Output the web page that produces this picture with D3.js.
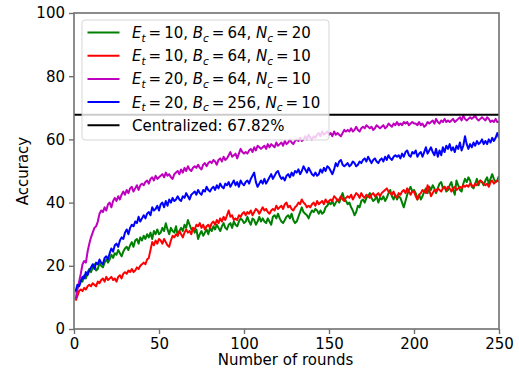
<!DOCTYPE html>
<html>
<head>
<meta charset="utf-8">
<script src="https://cdn.jsdelivr.net/npm/d3@7"></script>
<style>
  body { margin: 0; background: #fff; }
  svg text { font-family: "DejaVu Sans", sans-serif; fill: #000; }
</style>
</head>
<body>
<svg id="chart" width="519" height="372"></svg>
<script>
// accuracy per round
var accEt10Nc20 = [
  11.5, 13, 14, 15.5, 15, 17, 16, 18, 19, 18,
  19.5, 20.5, 18.5, 19, 21, 20, 19.5, 21, 22, 21,
  22, 23.5, 22.5, 24, 23.5, 25, 24, 23, 24.5, 25.5,
  26, 25, 26.5, 27.5, 26, 28, 28.5, 27, 29, 28,
  29.5, 28.5, 30, 29, 30.5, 28.5, 31, 30, 31.5, 30,
  30.5, 32, 31, 33.5, 31.5, 30, 32, 31, 30.5, 32.5,
  29.5, 31, 32, 31, 33, 32, 34.5, 33, 31.5, 32,
  30.5, 31.5, 28.5, 30, 31, 29.5, 30.5, 31.5, 30, 32,
  31, 32.5, 31.5, 33, 32, 31, 32.5, 33.5, 32, 31.5,
  33, 33.5, 32, 34, 33, 32.5, 34, 35, 34.5, 33.5,
  34, 35.5, 34, 33, 35, 34.5, 33, 34, 35.5, 34,
  35, 34, 33.5, 35, 34, 33, 35.5, 36, 35, 36.5,
  35, 34, 33.5, 34.5, 35.5, 36, 35, 36.5, 34.5, 33.5,
  34, 35.5, 37, 38.5, 37, 36.5, 36, 35, 36.5, 37.5,
  37, 38, 37.5, 36.5, 37.5, 36.5, 37, 38.5, 39, 40,
  39.5, 40.5, 39, 40, 41, 40, 41.5, 43, 41, 40.5,
  39.5, 40, 38.5, 37.5, 36, 37, 39, 38.5, 40.5, 41,
  40, 41.5, 42, 43, 41.5, 40.5, 41, 42, 40, 41.5,
  41, 42, 40.5, 41.5, 43, 44, 42, 41, 42.5, 41,
  42, 41.5, 40, 38.5, 40.5, 42.5, 44, 45, 43.5, 44,
  43, 41, 42.5, 41, 42, 43.5, 44.5, 43, 45, 44,
  45.5, 44.5, 43, 44.5, 46, 46.5, 44.5, 45, 43.5, 44,
  45.5, 46.5, 44, 42.5, 47, 45.5, 44, 43.5, 46, 47.5,
  46.5, 48, 47, 45, 44.5, 46, 47.5, 45.5, 47, 46.5,
  45.5, 47, 48, 46, 47.5, 49, 47.5, 46.5, 47, 48.5
];
var accEt10Nc10 = [
  9, 10.5, 12, 12.5, 12, 13, 12.5, 13.5, 14, 13.5,
  14.5, 14, 13.5, 15, 14.5, 15.5, 16, 15, 16.5, 15.5,
  16, 16.5, 15.5, 16, 15, 16.5, 17, 16, 17.5, 18,
  17.5, 18.5, 18, 19, 18, 18.5, 19.5, 19, 20, 20.5,
  21, 20.5, 22, 22.5, 25, 27.5, 26.5, 28, 27, 28.5,
  28, 27, 28.5, 27.5, 26.5, 26, 28, 29.5, 29, 30,
  29.5, 31, 30, 29, 30.5, 31.5, 30.5, 31, 30, 32,
  31.5, 33, 32.5, 33.5, 32, 33, 31.5, 32.5, 33, 32,
  33.5, 34, 33, 34.5, 33.5, 35, 34, 35.5, 34.5, 36,
  37.5, 35.5, 36, 34.5, 35, 34.5, 36, 35.5, 36.5, 37,
  36, 37, 36.5, 37.5, 36, 37, 38, 37.5, 36.5, 37.5,
  38.5, 37.5, 38, 37, 36.5, 37.5, 38, 37.5, 39, 38,
  38.5, 39, 38, 39.5, 40, 38.5, 39, 38, 37.5, 38.5,
  39, 40, 39.5, 41, 40, 39.5, 38.5, 39, 38.5, 39.5,
  40, 39, 40.5, 39.5, 40, 40.5, 39.5, 41, 40, 40.5,
  41, 40.5, 42, 41.5, 40.5, 41, 42, 41, 40.5, 41.5,
  42, 41.5, 42.5, 41, 42, 43, 42.5, 41.5, 43, 42,
  41.5, 42.5, 42, 41.5, 42.5, 43, 42, 42.5, 43, 42,
  43, 43.5, 44, 44.5, 43.5, 43, 42.5, 43.5, 42, 41.5,
  43, 42.5, 43.5, 44, 43, 44.5, 43.5, 42.5, 43.5, 43.5,
  42, 41, 42.5, 43, 44, 43.5, 43, 45.5, 44, 42,
  43, 44, 43.5, 44.5, 44, 43.5, 44.5, 45, 44, 45,
  44.5, 43.5, 44.5, 45, 44, 44.5, 45, 44.5, 45.5, 45,
  45.5, 45, 46, 45.5, 45, 46, 45.5, 46.5, 47, 46.5,
  46, 45.5, 46, 45, 46.5, 47, 46, 46.5, 47, 46.5
];
var accEt20Bc64 = [
  9.5, 12.5, 15, 17.5, 20.5, 21.5, 21, 24.5, 27, 29,
  30.5, 32, 32.5, 34, 36.5, 37.5, 37, 38.5, 37.5, 39.5,
  40, 38.5, 40.5, 41.5, 40.5, 42, 41, 42.5, 43.5, 42.5,
  44, 43, 44.5, 45, 43.5, 44.5, 45.5, 44, 45.5, 46,
  45.5, 46.5, 47, 46, 47.5, 48, 47, 48.5, 47.5, 48,
  48.5, 49, 48, 49.5, 48.5, 49, 48, 47.5, 49, 49.5,
  50, 49, 50.5, 49.5, 51, 50, 51.5, 50.5, 50, 51,
  51.5, 51, 52, 51, 50.5, 52, 52.5, 51.5, 52.5, 53,
  52.5, 53.5, 53, 52, 53.5, 54, 53, 54.5, 53.5, 54,
  55, 56, 54.5, 55, 55.5, 54, 55.5, 57, 56, 55.5,
  56, 55.5, 56.5, 57, 56, 57.5, 56.5, 58, 57.5, 57,
  57.5, 58, 57, 58.5, 57.5, 58.5, 58, 57.5, 59, 58,
  58.5, 59, 58, 59.5, 58.5, 59, 60, 59, 58.5, 59.5,
  60, 59.5, 60.5, 59.5, 60, 61, 60, 61.5, 60.5, 60,
  61, 60.5, 61.5, 62, 61, 62.5, 61.5, 62, 62.5, 61.5,
  62, 61, 62.5, 61.5, 62, 61.5, 61, 62, 63, 62.5,
  63, 62.5, 63.5, 62.5, 63, 64, 63, 62.5, 63.5, 64,
  63.5, 64.5, 64, 63.5, 64, 63, 63.5, 64.5, 64, 63.5,
  64, 64.5, 63.5, 64, 65, 64.5, 64, 65, 64.5, 65.5,
  64.5, 65, 64.5, 65.5, 65, 65.5, 64.5, 65, 65.5, 65,
  65, 64.5, 65.5, 64.5, 65, 64, 64.5, 65.5, 65, 65.5,
  66, 65, 66.5, 65.5, 65, 66, 65.5, 66.5, 65.5, 66,
  65.5, 66, 66.5, 65.5, 66, 66.5, 67, 66, 67.5, 66.5,
  66, 66.5, 67, 66.5, 67, 67.5, 66.5, 66, 66.5, 67,
  66.5, 66, 67, 66.5, 65.5, 66, 65.5, 66.5, 65.5, 65.5
];
var accEt20Bc256 = [
  12, 14, 13.5, 15, 16.5, 16, 18, 17, 18.5, 19.5,
  20.5, 19, 21, 20.5, 22, 21, 20.5, 22.5, 23, 22,
  24, 25.5, 24.5, 26.5, 27, 26, 28, 29, 28.5, 30.5,
  31.5, 30, 32, 33, 32.5, 34, 33.5, 35.5, 34, 35,
  36, 35, 36.5, 37, 36, 38.5, 37.5, 38, 39, 37.5,
  39.5, 40, 38.5, 40.5, 39, 41, 40, 41.5, 40.5, 41,
  42, 41, 40.5, 42, 41.5, 43, 42, 41, 42.5, 43,
  43.5, 42.5, 44, 43, 42.5, 44, 43.5, 45, 44, 43.5,
  44.5, 45, 44, 45.5, 44.5, 46, 45, 44.5, 46, 45.5,
  46.5, 45, 46, 47, 45.5, 46.5, 45, 47, 46, 45.5,
  46.5, 47, 46, 47.5, 48.5, 49.5, 46.5, 45, 46, 47,
  46, 47.5, 46, 47, 48, 49, 47.5, 48.5, 49.5, 50,
  48.5, 47.5, 48, 47, 48.5, 49, 48, 49.5, 48.5, 50,
  49.5, 50.5, 49, 50, 51.5, 50.5, 49.5, 51, 50, 49,
  48.5, 49.5, 48.5, 49, 50.5, 49.5, 51, 50, 51.5, 51,
  50, 49, 50.5, 52.5, 51.5, 53, 53.5, 52, 51.5, 52,
  52.5, 51.5, 52, 53, 52.5, 51.5, 52, 53, 52.5, 53.5,
  54, 53, 54.5, 53.5, 52.5, 53.5, 54, 53, 52.5, 53.5,
  54, 53, 54.5, 53.5, 55, 54, 53.5, 54.5, 55, 54.5,
  55, 54, 55.5, 54.5, 56, 56.5, 55, 54.5, 56, 55.5,
  56.5, 54.5, 55.5, 56, 54.5, 56, 57.5, 55.5, 56.5, 57.5,
  56, 55, 57, 54.5, 56.5, 55, 57.5, 56, 58, 57,
  58.5, 56.5, 57.5, 56, 58, 57, 59, 56.5, 58, 61,
  58.5, 57, 58.5, 57.5, 59, 58, 59.5, 58.5, 59, 60,
  58.5, 59.5, 58.5, 60, 59, 60.5, 59.5, 60.5, 62, 60.5
];
var centralizedAcc = 67.82;

var seriesData = [accEt10Nc20, accEt10Nc10, accEt20Bc64, accEt20Bc256];
var seriesColors = ["#008000", "#ff0000", "#bf00bf", "#0000ff"];
// legend labels: [variable, subscript, value]
var seriesLabels = [
  [["E", "t", "10"], ["B", "c", "64"], ["N", "c", "20"]],
  [["E", "t", "10"], ["B", "c", "64"], ["N", "c", "10"]],
  [["E", "t", "20"], ["B", "c", "64"], ["N", "c", "10"]],
  [["E", "t", "20"], ["B", "c", "256"], ["N", "c", "10"]]
];
var xTicks = [0, 50, 100, 150, 200, 250];
var yTicks = [0, 20, 40, 60, 80, 100];

var svg = d3.select("#chart");
var margin = {left: 74, right: 20, top: 13, bottom: 43};
var width = 519 - margin.left - margin.right;
var height = 372 - margin.top - margin.bottom;

var x = d3.scaleLinear().domain([0, 250]).range([0, width]);
var y = d3.scaleLinear().domain([0, 100]).range([height, 0]);

var g = svg.append("g")
  .attr("transform", "translate(" + margin.left + "," + margin.top + ")");

g.append("clipPath").attr("id", "clip")
  .append("rect").attr("width", width).attr("height", height);

var line = d3.line()
  .x(function(d, i) { return x(i + 1); })
  .y(function(d) { return y(d); });

var plot = g.append("g").attr("clip-path", "url(#clip)");

seriesData.forEach(function(s, i) {
  plot.append("path")
    .datum(s)
    .attr("d", line)
    .attr("fill", "none")
    .attr("stroke", seriesColors[i])
    .attr("stroke-width", 2)
    .attr("stroke-linejoin", "round");
});

// centralized baseline
plot.append("line")
  .attr("x1", x(0)).attr("x2", x(250))
  .attr("y1", y(centralizedAcc)).attr("y2", y(centralizedAcc))
  .attr("stroke", "#000")
  .attr("stroke-width", 2);

// axes
var xAxis = g.append("g")
  .attr("transform", "translate(0," + height + ")")
  .call(d3.axisBottom(x).tickValues(xTicks).tickSize(5).tickPadding(4));
var yAxis = g.append("g")
  .call(d3.axisLeft(y).tickValues(yTicks).tickSize(5).tickPadding(4));

[xAxis, yAxis].forEach(function(a) {
  a.select(".domain").remove();
  a.selectAll("line").attr("stroke", "#707070").attr("stroke-width", 1.4);
  a.selectAll("text").attr("font-size", 15).attr("font-family", "DejaVu Sans").attr("fill", "#000");
});

// frame
g.append("rect")
  .attr("width", width).attr("height", height)
  .attr("fill", "none")
  .attr("stroke", "#707070")
  .attr("stroke-width", 1.6);

g.append("text")
  .attr("x", width / 2 - 1)
  .attr("y", height + 36)
  .attr("text-anchor", "middle")
  .attr("font-size", 15)
  .text("Number of rounds");

svg.append("text")
  .attr("transform", "translate(28," + (margin.top + height / 2) + ") rotate(-90)")
  .attr("text-anchor", "middle")
  .attr("font-size", 15)
  .text("Accuracy");

// legend
var legend = g.append("g").attr("transform", "translate(8,7)");
legend.append("rect")
  .attr("width", 247).attr("height", 120)
  .attr("rx", 3).attr("ry", 3)
  .attr("fill", "#fff").attr("fill-opacity", 0.8)
  .attr("stroke", "#cccccc").attr("stroke-opacity", 0.8);

var rowH = 23.2;
var rows = seriesLabels.concat([null]);
rows.forEach(function(lab, i) {
  var ry = 12.5 + i * rowH;
  legend.append("line")
    .attr("x1", 5.5).attr("x2", 37.5)
    .attr("y1", ry).attr("y2", ry)
    .attr("stroke", i < 4 ? seriesColors[i] : "#000")
    .attr("stroke-width", 2);
  var t = legend.append("text")
    .attr("x", 50)
    .attr("y", ry + 5.5)
    .attr("font-size", 15);
  if (lab == null) {
    t.text("Centralized: " + centralizedAcc.toFixed(2) + "%");
    return;
  }
  lab.forEach(function(p, j) {
    t.append("tspan").attr("font-style", "italic").text(p[0]);
    t.append("tspan").attr("font-style", "italic").attr("font-size", 10.5)
      .attr("dy", 3.5).text(p[1]);
    t.append("tspan").attr("dy", -3.5)
      .text("\u2009=\u2009" + p[2] + (j < lab.length - 1 ? ", " : ""));
  });
});
</script>
</body>
</html>
